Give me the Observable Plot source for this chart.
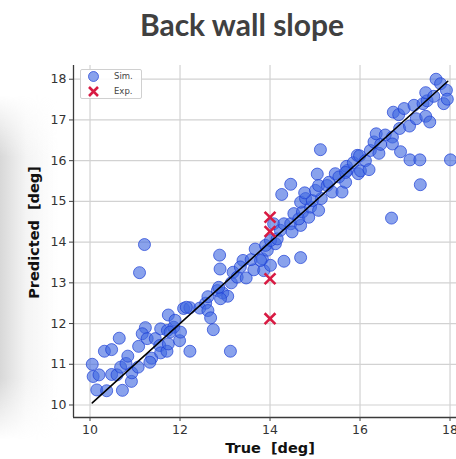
<!DOCTYPE html>
<html>
<head>
<meta charset="utf-8">
<script src="https://cdn.jsdelivr.net/npm/d3@7"></script>
<script src="https://cdn.jsdelivr.net/npm/@observablehq/plot@0.6"></script>
<style>
  html, body { margin: 0; padding: 0; background: #fff; }
  #wrap { position: relative; width: 456px; height: 459px; overflow: hidden; }
  #shade { position: absolute; left: 0; top: 95px; width: 58px; height: 345px;
    background: linear-gradient(to right, rgba(200,200,200,0.7), rgba(228,228,228,0.4) 45%, rgba(255,255,255,0));
    -webkit-mask-image: linear-gradient(to bottom, transparent, black 18%, black 82%, transparent);
    mask-image: linear-gradient(to bottom, transparent, black 18%, black 82%, transparent); }
  #title { position: relative; height: 55px; line-height: 48px; text-align: center; padding-left: 28px;
    box-sizing: border-box; font-family: Lato, "Open Sans", sans-serif; font-weight: 700; font-size: 30px; color: #404040; }
  #chart { position: relative; }
  #legend { position: absolute; left: 80px; top: 69px; width: 62px; height: 30px; box-sizing: border-box;
    border: 1px solid #d0d0d0; border-radius: 2px; background: rgba(255,255,255,0.9); }
</style>
</head>
<body>
<div id="wrap">
  <div id="shade"></div>
  <div id="title">Back wall slope</div>
  <div id="chart"></div>
  <div id="legend"></div>
</div>
<script>
// ---- data ----
const simTrue = [10.05,10.07,10.20,10.15,10.37,10.72,10.32,10.48,10.65,10.48,10.60,10.68,10.80,10.92,10.93,10.84,11.07,11.08,11.37,11.33,
  11.23,11.16,11.27,11.45,11.55,11.57,11.71,11.74,11.57,11.72,11.86,11.74,11.89,11.99,12.01,11.78,12.22,12.08,12.22,12.14,
  12.44,12.57,12.62,12.62,12.68,12.74,13.12,12.83,12.95,13.06,12.90,12.86,13.14,13.18,13.27,13.47,13.64,13.40,13.58,13.67,
  12.88,12.89,13.34,13.83,13.86,14.01,13.94,14.12,13.90,14.01,14.16,14.08,14.23,14.31,14.46,14.49,14.68,14.53,14.64,14.72,
  14.86,14.90,15.08,14.68,14.79,15.14,14.94,14.77,15.01,14.26,14.46,15.05,15.08,15.27,15.38,15.60,15.31,15.45,15.53,15.68,
  15.72,15.70,15.68,15.85,15.94,15.96,16.01,15.99,16.12,16.20,16.23,16.42,16.31,16.46,16.36,16.56,16.72,16.72,16.88,17.10,
  16.90,17.11,17.33,18.01,17.34,16.70,15.12,16.74,16.86,16.98,17.20,17.40,17.49,17.46,17.64,17.69,17.79,17.92,17.86,17.94,
  17.25,17.46,17.55,11.21,11.10,14.31,14.68,13.79];
const simPred = [11.00,10.70,10.74,10.37,10.35,10.36,11.32,11.36,11.64,10.75,10.74,10.93,11.02,10.58,10.79,11.20,10.93,11.44,11.15,11.05,
  11.90,11.75,11.63,11.63,11.46,11.28,11.32,11.50,11.87,11.83,11.91,12.21,12.08,11.58,11.79,11.79,11.32,12.37,12.39,12.40,
  12.38,12.50,12.66,12.32,12.14,11.85,11.32,12.81,12.75,12.67,12.61,12.89,13.00,13.26,13.14,13.12,13.32,13.55,13.57,13.83,
  13.68,13.34,13.39,13.59,13.30,13.43,13.80,13.96,13.92,14.04,14.08,14.45,14.29,14.45,14.45,14.25,14.41,14.70,14.57,14.74,
  14.61,14.86,14.78,14.98,15.07,15.07,15.02,15.21,15.27,15.17,15.42,15.67,15.39,15.39,15.23,15.23,15.47,15.68,15.60,15.47,
  15.76,15.86,15.71,15.95,16.13,15.68,15.75,16.12,16.00,15.78,16.25,16.18,16.46,16.40,16.66,16.63,16.58,16.41,16.79,16.85,
  16.22,16.02,16.02,16.02,15.41,14.59,16.27,17.19,17.13,17.28,17.36,17.40,17.47,17.67,17.58,18.00,17.89,17.73,17.40,17.51,
  17.03,17.09,16.95,13.94,13.25,13.53,13.62,13.55];
const expTrue = [14.0, 14.0, 14.0, 14.0];
const expPred = [14.61, 14.26, 13.10, 12.12];
const idealLine = [10.05, 17.95];
const xTicks = [10, 12, 14, 16, 18];
const yTicks = [10, 11, 12, 13, 14, 15, 16, 17, 18];
const xLabel = "True  [deg]";
const yLabel = "Predicted  [deg]";
const legendLabels = ["Sim.", "Exp."];

// ---- tables ----
const sim = simTrue.map((t, i) => ({t, p: simPred[i]}));
const exp = expTrue.map((t, i) => ({t, p: expPred[i]}));
const diag = idealLine.map(v => ({t: v, p: v}));

const xDomain = [9.633, 18.144];
const yDomain = [9.693, 18.337];

const chart = Plot.plot({
  width: 456,
  height: 404,
  marginLeft: 73,
  marginRight: 0,
  marginTop: 10,
  marginBottom: 42,
  style: {fontFamily: "DejaVu Sans", fontSize: "12.5px", color: "#333", background: "transparent", overflow: "visible"},
  x: {domain: xDomain},
  y: {domain: yDomain},
  marks: [
    Plot.gridX(xTicks, {stroke: "#d2d2d2", strokeOpacity: 1, strokeWidth: 1.2}),
    Plot.gridY(yTicks, {stroke: "#d2d2d2", strokeOpacity: 1, strokeWidth: 1.2}),
    Plot.ruleY([yDomain[0]], {stroke: "#3a3a3a", strokeWidth: 1.3}),
    Plot.ruleX([xDomain[0]], {stroke: "#3a3a3a", strokeWidth: 1.3}),
    Plot.axisX(xTicks, {tickSize: 4, tickPadding: 4, label: null, stroke: "#444"}),
    Plot.axisY(yTicks, {tickSize: 4, tickPadding: 3, label: null, stroke: "#444"}),
    Plot.dot(sim, {x: "t", y: "p", r: 6, fill: "#4169e1", fillOpacity: 0.62, stroke: "#1c3fd6", strokeOpacity: 0.7, strokeWidth: 1}),
    Plot.line(diag, {x: "t", y: "p", stroke: "#000", strokeWidth: 1.6}),
    Plot.dot(exp, {x: "t", y: "p", symbol: "times", r: 5, stroke: "#d81b43", strokeWidth: 2.6}),
    Plot.text([xLabel], {frameAnchor: "bottom", dx: 5, dy: 31, lineAnchor: "middle", fontWeight: "bold", fontSize: 14.5, fill: "#111"}),
    Plot.text([yLabel], {frameAnchor: "left", rotate: -90, dx: -39, dy: -9, lineAnchor: "middle", textAnchor: "middle", fontWeight: "bold", fontSize: 14.5, fill: "#111"})
  ]
});
document.getElementById("chart").appendChild(chart);

// legend
const lg = d3.select("#legend").append("svg").attr("width", 60).attr("height", 28)
  .style("position", "absolute").style("left", "0px").style("top", "0px");
lg.append("circle").attr("cx", 12.5).attr("cy", 6.5).attr("r", 5)
  .attr("fill", "#4169e1").attr("fill-opacity", 0.62).attr("stroke", "#1c3fd6").attr("stroke-opacity", 0.7);
const xs = 4.5, cx = 12.5, cy = 21.5;
lg.append("path").attr("d", `M${cx-xs},${cy-xs}L${cx+xs},${cy+xs}M${cx-xs},${cy+xs}L${cx+xs},${cy-xs}`)
  .attr("stroke", "#d81b43").attr("stroke-width", 2.6);
lg.selectAll("text.l").data(legendLabels).join("text")
  .attr("x", 33).attr("y", (d, i) => 6.5 + i * 15).attr("dy", "0.35em")
  .attr("font-family", "DejaVu Sans").attr("font-size", 8.5).attr("fill", "#444").text(d => d);
</script>
</body>
</html>
